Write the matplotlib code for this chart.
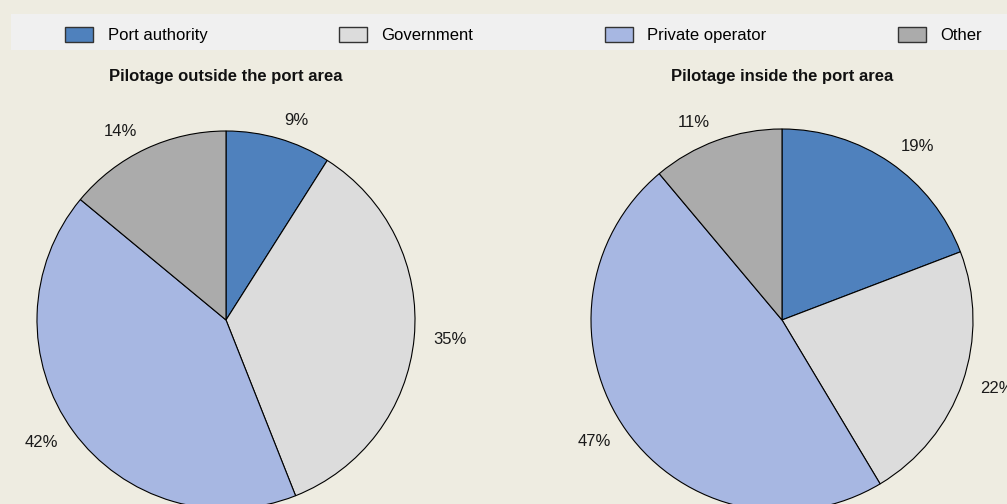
import matplotlib.pyplot as plt
from matplotlib.patches import Patch, Rectangle

# Shares of pilotage providers, clockwise from 12 o'clock
categories = ["Port authority", "Government", "Private operator", "Other"]
outside_values = [9, 35, 42, 14]
inside_values = [19, 22, 47, 11]
titles = ["Pilotage outside the port area", "Pilotage inside the port area"]

colors = ["#4F81BD", "#DCDCDC", "#A7B7E2", "#ABABAB"]
bg = "#EEECE1"

plt.rcParams["font.family"] = ["Liberation Sans", "DejaVu Sans"]
FS = 12

W, H = 1007, 504
fig = plt.figure(figsize=(W / 100, H / 100), dpi=100, facecolor=bg)

LIM = 1.3


def pie_axes(cx, cy, r):
    # square axes in pixel units, centred on (cx, cy) measured from the top
    half = r * LIM
    ax = fig.add_axes([(cx - half) / W, (H - cy - half) / H, 2 * half / W, 2 * half / H])
    return ax


def draw_pie(ax, values):
    wedges, texts = ax.pie(values, colors=colors, startangle=90, counterclock=False,
                           labels=[f"{v}%" for v in values], labeldistance=1.1,
                           wedgeprops=dict(edgecolor="black", linewidth=0.8),
                           textprops=dict(fontsize=FS, color="#1a1a1a"))
    for t in texts:
        t.set_clip_on(False)
    # pie() resets the limits, so fix them afterwards
    ax.set_xlim(-LIM, LIM)
    ax.set_ylim(-LIM, LIM)
    ax.set_aspect("equal")
    ax.axis("off")


ax1 = pie_axes(226, 320, 189)
draw_pie(ax1, outside_values)
ax2 = pie_axes(782, 320, 191)
draw_pie(ax2, inside_values)

fig.text(226 / W, 1 - 77 / H, titles[0], ha="center", va="center",
         fontsize=FS, fontweight="bold", color="#111111")
fig.text(782 / W, 1 - 77 / H, titles[1], ha="center", va="center",
         fontsize=FS, fontweight="bold", color="#111111")

# legend strip
fig.patches.append(Rectangle((11 / W, 1 - 50 / H), 1 - 11 / W, 36 / H,
                             transform=fig.transFigure, facecolor="#F0F0F0",
                             edgecolor="none", zorder=0))
handles = [Patch(facecolor=c, edgecolor="#333333", linewidth=1) for c in colors]
fig.legend(handles, categories, loc="center", ncol=4, mode="expand",
           bbox_to_anchor=(65 / W, 1 - 53 / H, (982 - 65) / W, 36 / H),
           frameon=False, borderpad=0, borderaxespad=0, fontsize=FS,
           handlelength=1.7, handleheight=1.0, handletextpad=0.85)

fig.savefig("out.png", dpi=100, facecolor=bg)
